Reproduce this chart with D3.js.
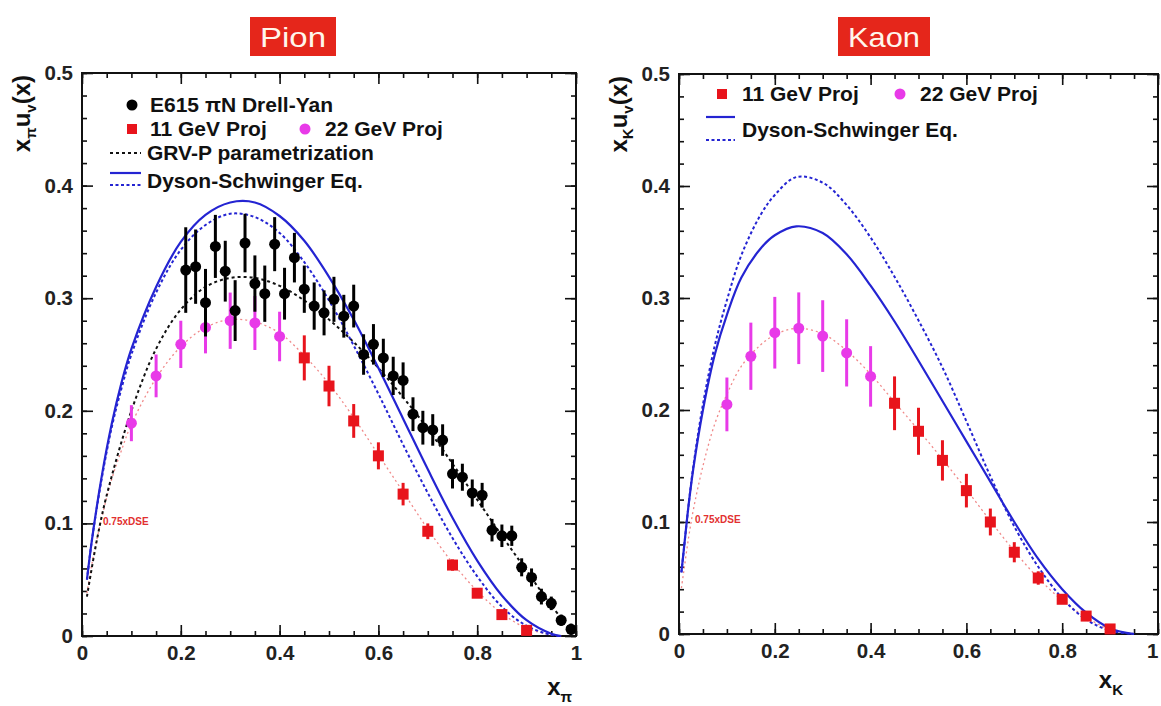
<!DOCTYPE html>
<html>
<head>
<meta charset="utf-8">
<script src="https://cdn.jsdelivr.net/npm/d3@7"></script>
<style>
  body { margin: 0; background: #fff; }
  svg { display: block; font-family: 'Liberation Sans', Arial, Helvetica, sans-serif; }
</style>
</head>
<body>
<div id="chart"></div>
<script>
// ---- Pion panel data ----
const pionE615X = [0.21, 0.23, 0.25, 0.27, 0.29, 0.31, 0.33, 0.35, 0.37, 0.39,
                   0.41, 0.43, 0.45, 0.47, 0.49, 0.51, 0.53, 0.55, 0.57, 0.59,
                   0.61, 0.63, 0.65, 0.67, 0.69, 0.71, 0.73, 0.75, 0.77, 0.79,
                   0.81, 0.83, 0.85, 0.87, 0.89, 0.91, 0.93, 0.95, 0.97, 0.99];
const pionE615Y = [0.325, 0.328, 0.296, 0.346, 0.324, 0.289, 0.349, 0.313, 0.304, 0.348,
                   0.304, 0.336, 0.308, 0.293, 0.287, 0.299, 0.284, 0.293, 0.250, 0.259,
                   0.247, 0.231, 0.227, 0.197, 0.185, 0.183, 0.174, 0.144, 0.141, 0.127,
                   0.125, 0.094, 0.089, 0.089, 0.061, 0.052, 0.035, 0.029, 0.014, 0.006];
const pionE615Err = [0.038, 0.033, 0.030, 0.028, 0.027, 0.027, 0.026, 0.025, 0.025, 0.024,
                     0.023, 0.022, 0.021, 0.021, 0.020, 0.020, 0.019, 0.019, 0.018, 0.018,
                     0.017, 0.017, 0.016, 0.015, 0.015, 0.014, 0.014, 0.013, 0.012, 0.012,
                     0.011, 0.010, 0.010, 0.009, 0.008, 0.008, 0.007, 0.006, 0.005, 0.005];

const pion22X = [0.10, 0.15, 0.20, 0.25, 0.30, 0.35, 0.40];
const pion22Y = [0.189, 0.231, 0.259, 0.274, 0.280, 0.278, 0.266];
const pion22Err = [0.016, 0.019, 0.021, 0.023, 0.025, 0.024, 0.022];

const pion11X = [0.45, 0.50, 0.55, 0.60, 0.65, 0.70, 0.75, 0.80, 0.85, 0.90];
const pion11Y = [0.247, 0.222, 0.191, 0.160, 0.126, 0.093, 0.063, 0.038, 0.019, 0.005];
const pion11Err = [0.020, 0.018, 0.015, 0.012, 0.010, 0.007, 0.005, 0.004, 0.003, 0.002];

const pionCurveX = [0.01, 0.02, 0.04, 0.06, 0.08, 0.10, 0.15, 0.20, 0.25, 0.30, 0.35, 0.40,
                    0.45, 0.50, 0.55, 0.60, 0.65, 0.70, 0.75, 0.80, 0.85, 0.90, 0.95, 0.97];
const pionDseSolid = [0.050, 0.085, 0.142, 0.188, 0.225, 0.255, 0.310, 0.350, 0.374, 0.385, 0.385, 0.373,
                      0.351, 0.319, 0.281, 0.238, 0.193, 0.148, 0.105, 0.067, 0.036, 0.014, 0.002, 0.000];
const pionDseDotted = [0.050, 0.085, 0.140, 0.185, 0.220, 0.250, 0.305, 0.343, 0.365, 0.375, 0.372, 0.358,
                       0.332, 0.298, 0.258, 0.215, 0.170, 0.127, 0.087, 0.053, 0.026, 0.009, 0.001, 0.000];
const pionDseScaled = [0.038, 0.064, 0.105, 0.139, 0.165, 0.188, 0.229, 0.257, 0.274, 0.281, 0.279, 0.269,
                       0.249, 0.224, 0.194, 0.161, 0.128, 0.095, 0.065, 0.040, 0.020, 0.007, 0.001, 0.000];

const pionGrvX = [0.01, 0.03, 0.05, 0.10, 0.15, 0.20, 0.25, 0.30, 0.35, 0.40, 0.45, 0.50,
                  0.55, 0.60, 0.65, 0.70, 0.75, 0.80, 0.85, 0.90, 0.95, 1.00];
const pionGrv = [0.035, 0.085, 0.125, 0.200, 0.255, 0.290, 0.310, 0.318, 0.318, 0.311, 0.298, 0.281,
                 0.261, 0.238, 0.212, 0.184, 0.153, 0.121, 0.089, 0.058, 0.027, 0.000];

// ---- Kaon panel data ----
const kaon22X = [0.10, 0.15, 0.20, 0.25, 0.30, 0.35, 0.40];
const kaon22Y = [0.205, 0.248, 0.269, 0.273, 0.266, 0.251, 0.230];
const kaon22Err = [0.024, 0.030, 0.032, 0.032, 0.032, 0.030, 0.027];

const kaon11X = [0.45, 0.50, 0.55, 0.60, 0.65, 0.70, 0.75, 0.80, 0.85, 0.90];
const kaon11Y = [0.206, 0.181, 0.155, 0.128, 0.100, 0.073, 0.050, 0.031, 0.016, 0.0045];
const kaon11Err = [0.024, 0.021, 0.018, 0.015, 0.012, 0.009, 0.006, 0.004, 0.003, 0.002];

const kaonCurveX = [0.005, 0.01, 0.02, 0.03, 0.05, 0.075, 0.10, 0.13, 0.17, 0.20, 0.245, 0.30, 0.35,
                    0.40, 0.45, 0.50, 0.55, 0.60, 0.65, 0.70, 0.75, 0.80, 0.85, 0.90, 0.95];
const kaonDseSolid = [0.055, 0.075, 0.115, 0.148, 0.200, 0.250, 0.285, 0.318, 0.344, 0.356, 0.364, 0.358, 0.339,
                      0.311, 0.279, 0.244, 0.208, 0.172, 0.136, 0.100, 0.067, 0.040, 0.019, 0.005, 0.000];
const kaonDseDotted = [0.055, 0.075, 0.115, 0.150, 0.205, 0.258, 0.298, 0.338, 0.374, 0.392, 0.408, 0.403, 0.383,
                       0.354, 0.319, 0.280, 0.238, 0.190, 0.141, 0.096, 0.060, 0.032, 0.013, 0.003, 0.000];
const kaonDseScaled = [0.041, 0.056, 0.086, 0.111, 0.150, 0.188, 0.214, 0.239, 0.258, 0.267, 0.273, 0.268, 0.253,
                       0.232, 0.207, 0.182, 0.156, 0.129, 0.101, 0.074, 0.050, 0.030, 0.015, 0.004, 0.000];

// ---- axis ticks ----
const xMajorTicks = [0, 0.2, 0.4, 0.6, 0.8, 1];
const xTickLabels = ['0', '0.2', '0.4', '0.6', '0.8', '1'];
const yMajorTicks = [0, 0.1, 0.2, 0.3, 0.4, 0.5];
const yTickLabels = ['0', '0.1', '0.2', '0.3', '0.4', '0.5'];

const svg = d3.select('#chart')
  .append('svg')
    .attr('width', 1161)
    .attr('height', 706);

svg.append('rect').attr('width', 1161).attr('height', 706).attr('fill', '#fff');

const BLUE = '#2424d2';
const RED = '#e8141c';
const MAGENTA = '#e83ae8';
const PINK = '#f08a8a';

function zip( xs, ys ) {
  return xs.map( function( d, i ){ return [d, ys[i]]; });
}

function drawPanel( cfg ) {
  const x = d3.scaleLinear().domain( [0, 1] ).range( [cfg.left, cfg.right] );
  const y = d3.scaleLinear().domain( [0, 0.5] ).range( [cfg.bottom, cfg.top] );
  const g = svg.append( 'g' );

  // ticks on all four sides, ROOT style (pointing inwards)
  const axes = [
    { gen: d3.axisBottom, t: 'translate(0,' + cfg.bottom + ')', s: x, major: xMajorTicks, minor: x.ticks( 20 ), labels: xTickLabels },
    { gen: d3.axisTop, t: 'translate(0,' + cfg.top + ')', s: x, major: xMajorTicks, minor: x.ticks( 20 ), labels: null },
    { gen: d3.axisLeft, t: 'translate(' + cfg.left + ',0)', s: y, major: yMajorTicks, minor: y.ticks( 25 ), labels: yTickLabels },
    { gen: d3.axisRight, t: 'translate(' + cfg.right + ',0)', s: y, major: yMajorTicks, minor: y.ticks( 25 ), labels: null }
  ];
  axes.forEach( function( a ) {
    const minor = g.append( 'g' ).attr( 'transform', a.t )
      .call( a.gen( a.s ).tickValues( a.minor ).tickSize( -5 ).tickFormat( '' ) );
    const major = g.append( 'g' ).attr( 'transform', a.t )
      .call( a.gen( a.s ).tickValues( a.major ).tickSize( -11 ).tickPadding( 9 )
        .tickFormat( function( d, i ){ return a.labels ? a.labels[i] : ''; } ) );
    [minor, major].forEach( function( sel ) {
      sel.select( '.domain' ).remove();
      sel.selectAll( 'line' ).attr( 'stroke', '#111' ).attr( 'stroke-width', 1.6 );
      sel.selectAll( 'text' )
        .attr( 'font-size', 20.5 ).attr( 'font-weight', 'bold' ).attr( 'fill', '#222' );
    });
  });

  // the "1" at the far right edge of the kaon panel is pulled in so it stays on the page
  if ( cfg.right > 1150 ) {
    g.selectAll( 'text' ).filter( function(){ return this.textContent === '1'; } )
      .attr( 'text-anchor', 'end' ).attr( 'dx', 0 );
  }

  // frame
  g.append( 'rect' )
    .attr( 'x', cfg.left ).attr( 'y', cfg.top )
    .attr( 'width', cfg.right - cfg.left ).attr( 'height', cfg.bottom - cfg.top )
    .attr( 'fill', 'none' ).attr( 'stroke', '#111' ).attr( 'stroke-width', 2 );

  const line = d3.line()
    .x( function( d ){ return x( d[0] ); } )
    .y( function( d ){ return y( d[1] ); } )
    .curve( d3.curveCatmullRom.alpha( 0.5 ) );

  // curves
  cfg.curves.forEach( function( c ) {
    g.append( 'path' )
      .attr( 'd', line( c.pts ) )
      .attr( 'fill', 'none' )
      .attr( 'stroke', c.color )
      .attr( 'stroke-width', c.width )
      .attr( 'stroke-dasharray', c.dash );
  });

  // points with error bars
  cfg.points.forEach( function( p ) {
    const data = p.xs.map( function( d, i ){ return { x: d, y: p.ys[i], e: p.err[i] }; });
    g.selectAll( null ).data( data ).enter().append( 'line' )
      .attr( 'x1', function( d ){ return x( d.x ); } )
      .attr( 'x2', function( d ){ return x( d.x ); } )
      .attr( 'y1', function( d ){ return y( d.y - d.e ); } )
      .attr( 'y2', function( d ){ return y( d.y + d.e ); } )
      .attr( 'stroke', p.color ).attr( 'stroke-width', 3 );
    if ( p.shape === 'square' ) {
      g.selectAll( null ).data( data ).enter().append( 'rect' )
        .attr( 'x', function( d ){ return x( d.x ) - 5.5; } )
        .attr( 'y', function( d ){ return y( d.y ) - 5.5; } )
        .attr( 'width', 11 ).attr( 'height', 11 )
        .attr( 'fill', p.color );
    } else {
      g.selectAll( null ).data( data ).enter().append( 'circle' )
        .attr( 'cx', function( d ){ return x( d.x ); } )
        .attr( 'cy', function( d ){ return y( d.y ); } )
        .attr( 'r', 5.5 )
        .attr( 'fill', p.color );
    }
  });

  // the small "0.75xDSE" note
  g.append( 'text' )
    .attr( 'x', cfg.noteX ).attr( 'y', cfg.noteY )
    .attr( 'font-size', 10 ).attr( 'font-weight', 'bold' ).attr( 'fill', '#e23030' )
    .text( '0.75xDSE' );

  // title box
  g.append( 'rect' )
    .attr( 'x', cfg.titleX ).attr( 'y', 17 ).attr( 'width', cfg.titleW ).attr( 'height', 39 )
    .attr( 'fill', '#e5261b' );
  g.append( 'text' )
    .attr( 'x', cfg.titleX + cfg.titleW / 2 ).attr( 'y', 47 )
    .attr( 'text-anchor', 'middle' ).attr( 'font-size', 28 ).attr( 'fill', '#fff6ec' )
    .attr( 'textLength', cfg.titleW - 20 ).attr( 'lengthAdjust', 'spacingAndGlyphs' )
    .text( cfg.title );

  // y axis title: x_sub u_v(x), rotated
  const yt = g.append( 'text' )
    .attr( 'transform', 'translate(' + cfg.yTitleX + ',' + (cfg.top + 2) + ') rotate(-90)' )
    .attr( 'text-anchor', 'end' ).attr( 'font-size', 24 ).attr( 'font-weight', 'bold' ).attr( 'fill', '#111' );
  yt.append( 'tspan' ).text( 'x' );
  yt.append( 'tspan' ).attr( 'dy', 6 ).attr( 'font-size', 15 ).text( cfg.sub );
  yt.append( 'tspan' ).attr( 'dy', -6 ).text( 'u' );
  yt.append( 'tspan' ).attr( 'dy', 6 ).attr( 'font-size', 15 ).text( 'v' );
  yt.append( 'tspan' ).attr( 'dy', -6 ).text( '(x)' );

  // x axis title
  const xt = g.append( 'text' )
    .attr( 'x', cfg.xTitleX ).attr( 'y', cfg.xTitleY )
    .attr( 'text-anchor', 'end' ).attr( 'font-size', 24 ).attr( 'font-weight', 'bold' ).attr( 'fill', '#111' );
  xt.append( 'tspan' ).text( 'x' );
  xt.append( 'tspan' ).attr( 'dy', 7 ).attr( 'font-size', 15 ).text( cfg.sub );

  return g;
}

function legendText( g, tx, ty, str ) {
  g.append( 'text' )
    .attr( 'x', tx ).attr( 'y', ty )
    .attr( 'font-size', 21 ).attr( 'font-weight', 'bold' ).attr( 'fill', '#111' )
    .text( str );
}

// ---------------- Pion ----------------
const pion = drawPanel({
  left: 82, right: 576, top: 73, bottom: 636,
  title: 'Pion', titleX: 250, titleW: 86,
  sub: 'π', yTitleX: 30, xTitleX: 572, xTitleY: 695,
  noteX: 103, noteY: 525,
  curves: [
    { pts: zip( pionCurveX, pionDseScaled ), color: PINK, width: 1.3, dash: '2,3' },
    { pts: zip( pionGrvX, pionGrv ), color: '#111', width: 2, dash: '3,3' },
    { pts: zip( pionCurveX, pionDseDotted ), color: BLUE, width: 2, dash: '3,2.5' },
    { pts: zip( pionCurveX, pionDseSolid ), color: BLUE, width: 2.2, dash: null }
  ],
  points: [
    { xs: pion22X, ys: pion22Y, err: pion22Err, color: MAGENTA, shape: 'circle' },
    { xs: pion11X, ys: pion11Y, err: pion11Err, color: RED, shape: 'square' },
    { xs: pionE615X, ys: pionE615Y, err: pionE615Err, color: '#000', shape: 'circle' }
  ]
});

// pion legend
pion.append( 'circle' ).attr( 'cx', 132 ).attr( 'cy', 105 ).attr( 'r', 5.5 ).attr( 'fill', '#000' );
legendText( pion, 150, 112, 'E615 πN Drell-Yan' );
pion.append( 'rect' ).attr( 'x', 127 ).attr( 'y', 124 ).attr( 'width', 10 ).attr( 'height', 10 ).attr( 'fill', RED );
legendText( pion, 150, 136, '11 GeV Proj' );
pion.append( 'circle' ).attr( 'cx', 305 ).attr( 'cy', 129 ).attr( 'r', 5.5 ).attr( 'fill', MAGENTA );
legendText( pion, 325, 136, '22 GeV Proj' );
pion.append( 'line' ).attr( 'x1', 110 ).attr( 'x2', 141 ).attr( 'y1', 153 ).attr( 'y2', 153 )
  .attr( 'stroke', '#111' ).attr( 'stroke-width', 2 ).attr( 'stroke-dasharray', '3,3' );
legendText( pion, 147, 160, 'GRV-P parametrization' );
pion.append( 'line' ).attr( 'x1', 110 ).attr( 'x2', 141 ).attr( 'y1', 173 ).attr( 'y2', 173 )
  .attr( 'stroke', BLUE ).attr( 'stroke-width', 2.2 );
pion.append( 'line' ).attr( 'x1', 110 ).attr( 'x2', 141 ).attr( 'y1', 185 ).attr( 'y2', 185 )
  .attr( 'stroke', BLUE ).attr( 'stroke-width', 2 ).attr( 'stroke-dasharray', '3,2.5' );
legendText( pion, 147, 188, 'Dyson-Schwinger Eq.' );

// ---------------- Kaon ----------------
const kaon = drawPanel({
  left: 679, right: 1158, top: 74, bottom: 634,
  title: 'Kaon', titleX: 838, titleW: 92,
  sub: 'K', yTitleX: 627, xTitleX: 1123, xTitleY: 688,
  noteX: 695, noteY: 523,
  curves: [
    { pts: zip( kaonCurveX, kaonDseScaled ), color: PINK, width: 1.3, dash: '2,3' },
    { pts: zip( kaonCurveX, kaonDseDotted ), color: BLUE, width: 2, dash: '3,2.5' },
    { pts: zip( kaonCurveX, kaonDseSolid ), color: BLUE, width: 2.2, dash: null }
  ],
  points: [
    { xs: kaon22X, ys: kaon22Y, err: kaon22Err, color: MAGENTA, shape: 'circle' },
    { xs: kaon11X, ys: kaon11Y, err: kaon11Err, color: RED, shape: 'square' }
  ]
});

// kaon legend
kaon.append( 'rect' ).attr( 'x', 717 ).attr( 'y', 89 ).attr( 'width', 10 ).attr( 'height', 10 ).attr( 'fill', RED );
legendText( kaon, 742, 101, '11 GeV Proj' );
kaon.append( 'circle' ).attr( 'cx', 900 ).attr( 'cy', 94 ).attr( 'r', 5.5 ).attr( 'fill', MAGENTA );
legendText( kaon, 920, 101, '22 GeV Proj' );
kaon.append( 'line' ).attr( 'x1', 706 ).attr( 'x2', 735 ).attr( 'y1', 117 ).attr( 'y2', 117 )
  .attr( 'stroke', BLUE ).attr( 'stroke-width', 2.2 );
kaon.append( 'line' ).attr( 'x1', 706 ).attr( 'x2', 735 ).attr( 'y1', 140 ).attr( 'y2', 140 )
  .attr( 'stroke', BLUE ).attr( 'stroke-width', 2 ).attr( 'stroke-dasharray', '3,2.5' );
legendText( kaon, 742, 137, 'Dyson-Schwinger Eq.' );
</script>
</body>
</html>
